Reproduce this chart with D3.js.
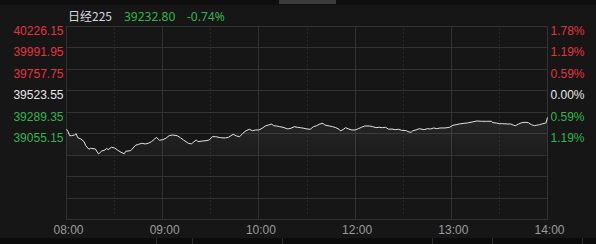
<!DOCTYPE html>
<html>
<head>
<meta charset="utf-8">
<script src="https://cdn.jsdelivr.net/npm/d3@7"></script>
<style>
  html, body { margin: 0; padding: 0; background: #161616; }
  svg { display: block; font-family: "Noto Sans", "Noto Sans CJK SC", sans-serif; }
</style>
</head>
<body>
<div id="chart"></div>
<script>
// header info
const title = "日经225"
const lastPrice = "39232.80"
const lastChange = "-0.74%"
const prevClose = 39523.55

// axis ticks
const priceTicks = [40226.15, 39991.95, 39757.75, 39523.55, 39289.35, 39055.15]
const pctTicks = ["1.78%", "1.19%", "0.59%", "0.00%", "0.59%", "1.19%"]
const timeTicks = [0, 60, 120, 180, 240, 300]
const timeLabels = ["08:00", "09:00", "10:00", "12:00", "13:00", "14:00"]
const halfHours = [30, 90, 150, 210, 270]

// intraday series: minutes since open, price
const minutes = [0, 1, 2, 3, 5, 6, 7, 9, 11, 12, 14, 15, 18, 20, 22, 24, 25, 26, 28, 30,
  32, 34, 36, 37, 40, 41, 43, 45, 47, 49, 51, 53, 55, 56, 58, 60, 62, 64, 66, 69,
  71, 73, 76, 78, 79, 81, 82, 85, 87, 89, 91, 93, 96, 99, 101, 104, 106, 108, 110, 112,
  114, 116, 118, 120, 122, 124, 126, 128, 129, 131, 133, 135, 138, 140, 142, 144, 146, 148, 150, 152,
  154, 156, 158, 160, 161, 164, 166, 168, 170, 171, 173, 174, 176, 178, 180, 182, 184, 186, 189, 191,
  193, 195, 197, 199, 201, 203, 205, 207, 209, 212, 213, 215, 216, 218, 220, 223, 225, 227, 229, 231,
  233, 236, 239, 241, 243, 245, 248, 250, 253, 256, 259, 262, 265, 266, 268, 270, 272, 275, 277, 279,
  280, 282, 284, 286, 288, 290, 292, 293, 295, 297, 299, 300]
const prices = [39103.7, 39077.5, 39033.8, 39033.8, 39041.5, 39055.7, 39012.0, 38997.8, 38968.3, 38924.6,
  38885.3, 38896.3, 38888.6, 38834.0, 38866.7, 38877.6, 38896.3, 38880.9, 38907.1, 38899.5,
  38874.4, 38852.5, 38836.0, 38863.5, 38870.0, 38888.6, 38929.0, 38939.9, 38950.8, 38943.2,
  38950.8, 38968.3, 38997.8, 39016.3, 38983.6, 38990.1, 39005.4, 39033.8, 39041.5, 39033.8,
  39012.0, 38986.9, 38950.8, 38943.2, 38961.7, 38986.9, 38968.3, 38975.9, 38979.2, 38986.9,
  39022.9, 39022.9, 39012.0, 39008.7, 39016.3, 39049.1, 39030.5, 39022.9, 39060.0, 39088.4,
  39103.7, 39088.4, 39096.0, 39096.0, 39114.6, 39139.7, 39150.6, 39161.5, 39143.0, 39139.7,
  39132.0, 39125.5, 39107.0, 39114.6, 39132.0, 39125.5, 39121.1, 39114.6, 39107.0, 39103.7,
  39132.0, 39143.0, 39161.5, 39169.2, 39150.6, 39139.7, 39132.0, 39121.1, 39103.7, 39085.1,
  39107.0, 39121.1, 39107.0, 39096.0, 39096.0, 39110.2, 39125.5, 39139.7, 39139.7, 39132.0,
  39121.1, 39125.5, 39121.1, 39125.5, 39103.7, 39107.0, 39099.3, 39103.7, 39092.7, 39088.4,
  39077.5, 39070.9, 39088.4, 39096.0, 39110.2, 39099.3, 39110.2, 39107.0, 39117.9, 39110.2,
  39117.9, 39117.9, 39125.5, 39147.4, 39153.9, 39161.5, 39169.2, 39172.5, 39183.4, 39194.3,
  39191.0, 39191.0, 39191.0, 39175.8, 39172.5, 39164.8, 39164.8, 39161.5, 39161.5, 39147.4,
  39143.0, 39161.5, 39175.8, 39180.1, 39175.8, 39153.9, 39143.0, 39147.4, 39153.9, 39164.8,
  39172.5, 39232.8]

const data = minutes.map((m, i) => ({ m: m, p: prices[i] }))

// colors
const red = "#e5343d"
const green = "#33b44f"
const white = "#e6e6e6"
const gridColor = "#323232"

const width = 596
const height = 244
const plot = { left: 66.5, right: 547.5, top: 26.5, bottom: 219.5 }
// snap to pixel centres so 1px lines stay crisp
const snap = v => Math.round(v - 0.5) + 0.5

const rowH = (plot.bottom - plot.top) / 9
const X = d3.scaleLinear().domain([0, 300]).range([plot.left, plot.right])
// price area = top 6 rows, symmetric round the previous close
const Y = d3.scaleLinear()
  .domain([prevClose - 3 * 234.2, prevClose + 3 * 234.2])
  .range([plot.top + 6 * rowH, plot.top])

const tone = v => v > prevClose + 0.01 ? red : (v < prevClose - 0.01 ? green : white)

const svg = d3.select("#chart").append("svg")
  .attr("width", width)
  .attr("height", height)

svg.append("rect").attr("width", width).attr("height", height).attr("fill", "#161616")

// top strip + scroll thumb
svg.append("rect").attr("x", 0).attr("y", 0).attr("width", width).attr("height", 5).attr("fill", "#0e0e0e")
svg.append("rect").attr("x", 279).attr("y", 0).attr("width", 57).attr("height", 4).attr("fill", "#3b3b3b")

// bottom tab strip
svg.append("rect").attr("x", 0).attr("y", 238).attr("width", width).attr("height", 6).attr("fill", "#0b0b0b")
svg.selectAll(".tabsep")
  .data([156, 192, 282, 432, 492, 582])
  .enter().append("rect")
  .attr("x", d => d).attr("y", 238).attr("width", 1).attr("height", 6)
  .attr("fill", "#2e2e2e")

const defs = svg.append("defs")
const grad = defs.append("linearGradient")
  .attr("id", "fillGrad").attr("x1", 0).attr("y1", 0).attr("x2", 0).attr("y2", 1)
grad.append("stop").attr("offset", "0%").attr("stop-color", "#ffffff").attr("stop-opacity", 0.07)
grad.append("stop").attr("offset", "100%").attr("stop-color", "#ffffff").attr("stop-opacity", 0.025)

// horizontal grid rows
const grid = svg.append("g").attr("class", "grid")
grid.selectAll(".hrow")
  .data(d3.range(10))
  .enter().append("line")
  .attr("x1", plot.left).attr("x2", plot.right)
  .attr("y1", d => snap(plot.top + d * rowH))
  .attr("y2", d => snap(plot.top + d * rowH))
  .attr("stroke", gridColor)

// hour verticals
grid.selectAll(".vcol")
  .data(timeTicks)
  .enter().append("line")
  .attr("x1", d => snap(X(d))).attr("x2", d => snap(X(d)))
  .attr("y1", plot.top).attr("y2", plot.bottom)
  .attr("stroke", gridColor)

// half hour dotted
grid.selectAll(".vdot")
  .data(halfHours)
  .enter().append("line")
  .attr("x1", d => snap(X(d))).attr("x2", d => snap(X(d)))
  .attr("y1", plot.top + 2).attr("y2", plot.bottom - 3)
  .attr("stroke", "#3a3a3a")
  .attr("stroke-dasharray", "1,3")

// area + line
const area = d3.area()
  .x(d => X(d.m))
  .y0(Y(Y.domain()[0]))
  .y1(d => Y(d.p))
svg.append("path")
  .datum(data)
  .attr("d", area)
  .attr("fill", "url(#fillGrad)")

const line = d3.line()
  .x(d => X(d.m))
  .y(d => Y(d.p))
svg.append("path")
  .datum(data)
  .attr("d", line)
  .attr("fill", "none")
  .attr("stroke", "#e2e2e2")
  .attr("stroke-width", 1)

// left price axis
const leftAxis = d3.axisLeft(Y).tickValues(priceTicks).tickSize(0).tickPadding(3)
  .tickFormat(d => d.toFixed(2)).offset(0)
const gl = svg.append("g")
  .attr("transform", "translate(" + plot.left + ",0)")
  .call(leftAxis)
gl.select(".domain").remove()
gl.selectAll(".tick")
  .attr("transform", d => "translate(0," + snap(Y(d)) + ")")
gl.selectAll("text")
  .attr("dy", null).attr("y", 8)
  .attr("font-size", 12).attr("font-family", null)
  .attr("fill", d => tone(d))

// right pct axis
const rightAxis = d3.axisRight(Y).tickValues(priceTicks).tickSize(0).tickPadding(3)
  .tickFormat((d, i) => pctTicks[i]).offset(0)
const gr = svg.append("g")
  .attr("transform", "translate(" + plot.right + ",0)")
  .call(rightAxis)
gr.select(".domain").remove()
gr.selectAll(".tick")
  .attr("transform", d => "translate(0," + snap(Y(d)) + ")")
gr.selectAll("text")
  .attr("dy", null).attr("y", 8)
  .attr("font-size", 12).attr("font-family", null)
  .attr("fill", d => tone(d))

// time axis
const timeAxis = d3.axisBottom(X).tickValues(timeTicks).tickSize(0).tickPadding(0)
  .tickFormat((d, i) => timeLabels[i]).offset(0)
const gx = svg.append("g")
  .attr("transform", "translate(0," + plot.bottom + ")")
  .call(timeAxis)
gx.select(".domain").remove()
gx.selectAll("text")
  .attr("dy", null).attr("y", 14).attr("x", 2)
  .attr("font-size", 12).attr("font-family", null)
  .attr("fill", "#9c9c9c")

// header
const head = svg.append("g").attr("font-size", 12)
head.append("text").attr("x", 68).attr("y", 21).attr("fill", "#d4d8dc")
  .attr("font-family", "'Noto Sans CJK SC', 'Noto Sans', sans-serif")
  .text(title)
head.append("text").attr("x", 124).attr("y", 21).attr("fill", green).text(lastPrice)
head.append("text").attr("x", 187).attr("y", 21).attr("fill", green).text(lastChange)
</script>
</body>
</html>
